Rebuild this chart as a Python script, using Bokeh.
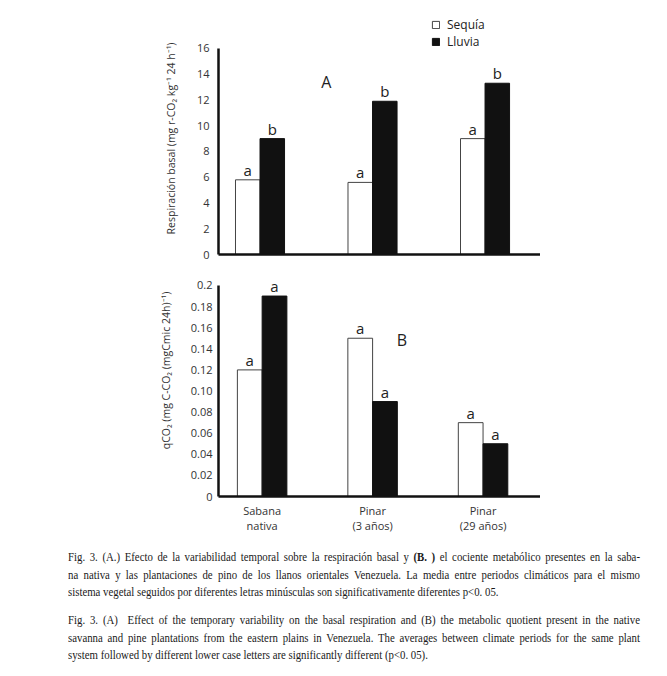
import math
from bokeh.plotting import figure
from bokeh.core.properties import value
from bokeh.models import (ColumnDataSource, Range1d, FixedTicker, LabelSet, Label,
                          Legend, LegendItem, Div)
from bokeh.transform import dodge
from bokeh.layouts import column
from bokeh.embed import file_html
from bokeh.resources import INLINE

# ---------------- data ----------------
categories = ["Sabana\nnativa", "Pinar\n(3 años)", "Pinar\n(29 años)"]
series = ["Sequía", "Lluvia"]

resp_sequia = [5.8, 5.6, 9.0]
resp_lluvia = [9.0, 11.9, 13.3]
resp_letters_sequia = ["a", "a", "a"]
resp_letters_lluvia = ["b", "b", "b"]

qco2_sequia = [0.12, 0.15, 0.07]
qco2_lluvia = [0.19, 0.09, 0.05]
qco2_letters_sequia = ["a", "a", "a"]
qco2_letters_lluvia = ["a", "a", "a"]

resp_ticks = [0, 2, 4, 6, 8, 10, 12, 14, 16]
qco2_ticks = [0, 0.02, 0.04, 0.06, 0.08, 0.1, 0.12, 0.14, 0.16, 0.18, 0.2]
qco2_tick_labels = ["0", "0.02", "0.04", "0.06", "0.08", "0.10", "0.12",
                    "0.14", "0.16", "0.18", "0.2"]

resp_title = "Respiración basal (mg r-CO₂ kg⁻¹ 24 h⁻¹)"
qco2_title = "qCO₂ (mg C-CO₂ (mgCmic 24h)⁻¹)"

FONT = "Open Sans"
TICK_COLOR = "#333333"


def style(p):
    p.xgrid.visible = False
    p.ygrid.visible = False
    p.outline_line_color = None
    for ax in (p.xaxis[0], p.yaxis[0]):
        ax.axis_line_width = 2.5
        ax.axis_line_color = "#111111"
        ax.major_tick_line_color = None
        ax.minor_tick_line_color = None
        ax.major_tick_out = 0
        ax.major_tick_in = 0
        ax.major_label_text_font = FONT
        ax.major_label_text_font_size = "11px"
        ax.major_label_text_color = TICK_COLOR
        ax.axis_label_text_font = FONT
        ax.axis_label_text_font_size = "10.5px"
        ax.axis_label_text_font_style = "normal"
        ax.axis_label_text_color = "#333333"


# ---------------- top chart (A) ----------------
bw1 = 0.218
p1 = figure(width=540, height=250 + 10, x_range=Range1d(-0.369, 2.493),
            y_range=Range1d(0, 18.95), output_backend="svg", toolbar_location=None,
            min_border_left=218, min_border_right=0, min_border_top=10,
            min_border_bottom=6)
style(p1)
p1.xaxis[0].ticker = FixedTicker(ticks=[])
p1.xaxis[0].major_label_text_font_size = "0px"
p1.xaxis[0].major_label_standoff = 0
p1.yaxis[0].ticker = FixedTicker(ticks=resp_ticks)
p1.yaxis[0].bounds = (0, 16)
p1.yaxis[0].major_label_standoff = 9
p1.yaxis[0].axis_label = resp_title + "\u2007" * 2
p1.yaxis[0].axis_label_standoff = 16

src1 = ColumnDataSource(dict(x=list(range(len(categories))), seq=resp_sequia,
                             llu=resp_lluvia, lseq=resp_letters_sequia,
                             lllu=resp_letters_lluvia))
r_seq = p1.vbar(x=dodge("x", -bw1 / 2, range=p1.x_range), top="seq", width=bw1,
                source=src1, fill_color="white", line_color="#444444", line_width=1)
r_llu = p1.vbar(x=dodge("x", bw1 / 2, range=p1.x_range), top="llu", width=bw1,
                source=src1, fill_color="#111111", line_color="#111111", line_width=1)

for field, txt, off in (("seq", "lseq", -bw1 / 2), ("llu", "lllu", bw1 / 2)):
    p1.add_layout(LabelSet(x=dodge("x", off, range=p1.x_range), y=field, text=txt,
                           source=src1, text_align="center",
                           text_baseline="alphabetic", y_offset=4,
                           text_font=value(FONT), text_font_size="15px",
                           text_color="#222222"))

p1.add_layout(Label(x=0.59, y=13.36, text="A", text_align="center",
                    text_baseline="middle", text_font=FONT,
                    text_font_size="16px", text_color="#222222"))

legend = Legend(items=[LegendItem(label=series[0], renderers=[r_seq]),
                       LegendItem(label=series[1], renderers=[r_llu])],
                location=(213, 204), glyph_width=9, glyph_height=9,
                label_height=9, label_standoff=7, spacing=0, padding=0,
                margin=0, border_line_color=None, background_fill_alpha=0,
                label_text_font=FONT, label_text_font_size="12px",
                label_text_color="#222222")
p1.add_layout(legend)

# ---------------- bottom chart (B) ----------------
bw2 = 0.224
p2 = figure(width=540, height=283, x_range=Range1d(-0.395, 2.52),
            y_range=Range1d(0, 0.2218), output_backend="svg", toolbar_location=None,
            min_border_left=215, min_border_right=0, min_border_top=2,
            min_border_bottom=47)
style(p2)
p2.xaxis[0].ticker = FixedTicker(ticks=list(range(len(categories))))
p2.xaxis[0].major_label_overrides = {i: c for i, c in enumerate(categories)}
p2.xaxis[0].major_label_standoff = 6
p2.xaxis[0].major_label_text_line_height = 1.0
p2.yaxis[0].ticker = FixedTicker(ticks=qco2_ticks)
p2.yaxis[0].bounds = (0, 0.2)
p2.yaxis[0].major_label_overrides = {t: l for t, l in zip(qco2_ticks, qco2_tick_labels)}
p2.yaxis[0].major_label_standoff = 6
p2.yaxis[0].axis_label = "\u2007" * 3 + qco2_title
p2.yaxis[0].axis_label_standoff = 15

src2 = ColumnDataSource(dict(x=list(range(len(categories))), seq=qco2_sequia,
                             llu=qco2_lluvia, lseq=qco2_letters_sequia,
                             lllu=qco2_letters_lluvia))
p2.vbar(x=dodge("x", -bw2 / 2, range=p2.x_range), top="seq", width=bw2,
        source=src2, fill_color="white", line_color="#444444", line_width=1)
p2.vbar(x=dodge("x", bw2 / 2, range=p2.x_range), top="llu", width=bw2,
        source=src2, fill_color="#111111", line_color="#111111", line_width=1)
for field, txt, off in (("seq", "lseq", -bw2 / 2), ("llu", "lllu", bw2 / 2)):
    p2.add_layout(LabelSet(x=dodge("x", off, range=p2.x_range), y=field, text=txt,
                           source=src2, text_align="center",
                           text_baseline="alphabetic", y_offset=4,
                           text_font=value(FONT), text_font_size="15px",
                           text_color="#222222"))
p2.add_layout(Label(x=1.265, y=0.1485, text="B", text_align="center",
                    text_baseline="middle", text_font=FONT,
                    text_font_size="16px", text_color="#222222"))

# ---------------- caption ----------------
para1 = [
    "Fig. 3. (A.) Efecto de la variabilidad temporal sobre la respiración basal y <b>(B. )</b> el cociente metabólico presentes en la saba-",
    "na nativa y las plantaciones de pino de los llanos orientales Venezuela. La media entre periodos climáticos para el mismo",
    "sistema vegetal seguidos por diferentes letras minúsculas son significativamente diferentes p&lt;0. 05.",
]
para2 = [
    "Fig. 3. (A)&nbsp; Effect of the temporary variability on the basal respiration and (B) the metabolic quotient present in the native",
    "savanna and pine plantations from the eastern plains in Venezuela. The averages between climate periods for the same plant",
    "system followed by different lower case letters are significantly different (p&lt;0. 05).",
]

full = "white-space:nowrap;text-align:justify;text-align-last:justify;height:17.5px;line-height:17.5px;"
last = "white-space:nowrap;text-align:left;height:17.5px;line-height:17.5px;"


def para_html(lines):
    out = ""
    for i, ln in enumerate(lines):
        st = last if i == len(lines) - 1 else full
        out += f'<div style="{st}">{ln}</div>'
    return out


inner_w = 715
caption = (
    f'<div style="margin-left:63px;width:{inner_w}px;transform:scaleX({572 / inner_w:.4f});'
    'transform-origin:0 0;font-family:\'Liberation Serif\',serif;font-size:13.5px;color:#1a1a1a;">'
    + para_html(para1)
    + '<div style="height:10.5px"></div>'
    + para_html(para2)
    + '</div>'
)
div = Div(text=caption, width=650, height=125, styles={"overflow": "visible"})

layout = column(p1, p2, div)
open("out.html", "w").write(file_html(layout, INLINE))
